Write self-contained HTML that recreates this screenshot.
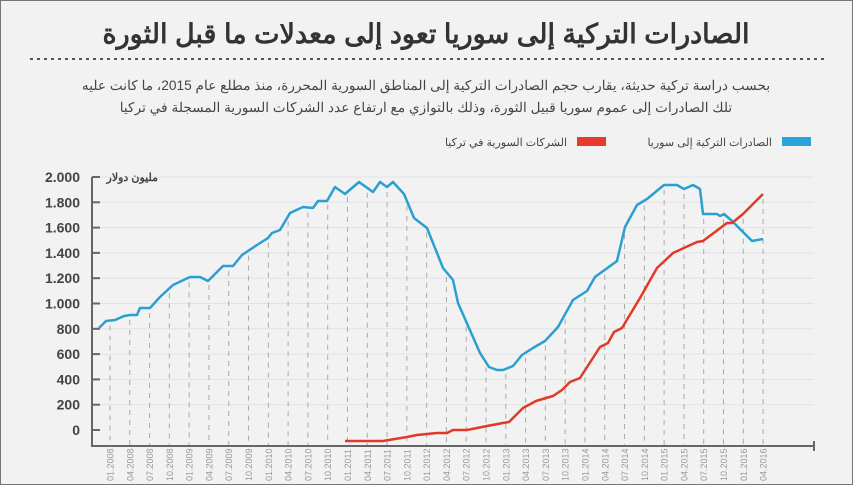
<!DOCTYPE html>
<html><head><meta charset="utf-8"><style>
html,body{margin:0;padding:0;background:#f2f2f3;}
svg{display:block;font-family:"Liberation Sans","Noto Sans CJK SC",sans-serif;}
</style></head><body>
<svg id="s" width="853" height="485" viewBox="0 0 853 485" xmlns="http://www.w3.org/2000/svg">
<rect x="0" y="0" width="853" height="485" fill="#f2f2f3"/>
<rect x="0.5" y="0.5" width="852" height="484" fill="none" stroke="#777" stroke-width="1"/>
<text x="426" y="43" text-anchor="middle" font-size="27" font-weight="bold" fill="#333" direction="rtl">الصادرات التركية إلى سوريا تعود إلى معدلات ما قبل الثورة</text>
<line x1="30" y1="59" x2="824" y2="59" stroke="#555" stroke-width="2" stroke-dasharray="3,4"/>
<text x="426" y="90" text-anchor="middle" font-size="13.7" fill="#444" direction="rtl">بحسب دراسة تركية حديثة، يقارب حجم الصادرات التركية إلى المناطق السورية المحررة، منذ مطلع عام 2015، ما كانت عليه</text>
<text x="426" y="112" text-anchor="middle" font-size="13.7" fill="#444" direction="rtl">تلك الصادرات إلى عموم سوريا قبيل الثورة، وذلك بالتوازي مع ارتفاع عدد الشركات السورية المسجلة في تركيا</text>
<rect x="782" y="137" width="29" height="9" fill="#29a3d9"/>
<text x="772" y="146" text-anchor="start" font-size="11" fill="#444" direction="rtl">الصادرات التركية إلى سوريا</text>
<rect x="577" y="137" width="29" height="9" fill="#e63a2a"/>
<text x="567" y="146" text-anchor="start" font-size="11" fill="#444" direction="rtl">الشركات السورية في تركيا</text>
<g id="grid"></g>
<g id="vlines"></g>
<line x1="92" y1="177" x2="92" y2="447" stroke="#666" stroke-width="2"/>
<line x1="92" y1="446" x2="814" y2="446" stroke="#666" stroke-width="2"/>
<line x1="814" y1="441" x2="814" y2="451" stroke="#666" stroke-width="2"/>
<g id="ylab"></g>
<g id="xlab"></g>
<text x="158" y="181" text-anchor="start" font-size="11" font-weight="bold" fill="#444" direction="rtl">مليون دولار</text>
<polyline id="blue" fill="none" stroke="#2a9fd0" stroke-width="2.5" stroke-linejoin="round"/>
<polyline id="red" fill="none" stroke="#e03a26" stroke-width="2.5" stroke-linejoin="round"/>
</svg>
<script>
(function(){
var NS="http://www.w3.org/2000/svg";
function el(p,t,a,txt){var e=document.createElementNS(NS,t);for(var k in a)e.setAttribute(k,a[k]);if(txt)e.textContent=txt;document.getElementById(p).appendChild(e);return e;}
var blue=[[99,328],[106,321],[115,320],[124,316],[130,315],[137,315],[140,308],[150,308],[160,297],[173,285],[190,277],[200,277],[208,281],[223,266],[233,266],[242,255],[257,245],[268,238],[272,233],[280,230],[290,213],[303,207],[313,208],[318,201],[327,201],[335,187],[345,194],[359,182],[373,192],[380,182],[387,187],[393,182],[404,194],[414,218],[427,228],[443,268],[453,280],[458,303],[480,353],[489,367],[497,370],[503,370],[513,366],[522,355],[533,348],[545,341],[558,327],[573,300],[587,291],[595,277],[617,261],[625,227],[637,205],[647,199],[664,185],[677,185],[684,189],[693,185],[700,189],[703,214],[717,214],[720,216],[724,214],[732,221],[752,241],[763,239]];
var red=[[345,441],[383,441],[407,437],[417,435],[437,433],[447,433],[453,430],[467,430],[487,426],[503,423],[509,422],[523,408],[536,401],[553,396],[562,390],[570,382],[580,378],[600,347],[608,343],[614,332],[622,328],[640,298],[657,268],[673,253],[697,242],[703,241],[727,223],[732,223],[743,214],[763,194]];
function pts(a){var s=[];for(var i=0;i<a.length;i++)s.push(a[i][0]+","+a[i][1]);return s.join(" ");}
document.getElementById("blue").setAttribute("points",pts(blue));
document.getElementById("red").setAttribute("points",pts(red));
function interp(arr,x){if(x<arr[0][0]||x>arr[arr.length-1][0]+1)return 9999;for(var i=1;i<arr.length;i++){if(x<=arr[i][0]){var a=arr[i-1],b=arr[i];var d=b[0]-a[0];var t=d?(x-a[0])/d:0;return a[1]+t*(b[1]-a[1]);}}return arr[arr.length-1][1];}
for(var v=0;v<=2000;v+=200){var y=430-v*253/2000;
 if(v>0)el("grid","line",{x1:92,y1:y,x2:814,y2:y,stroke:"#e2e2e4","stroke-width":1});
 el("grid","line",{x1:92,y1:y,x2:100,y2:y,stroke:"#666","stroke-width":2});
 var s=v>=1000?Math.floor(v/1000)+"."+("000"+(v%1000)).slice(-3):String(v);
 el("ylab","text",{x:80,y:y+5,"text-anchor":"end","font-size":14,"font-weight":"bold",fill:"#444"},s);}
var yrs=[2008,2009,2010,2011,2012,2013,2014,2015,2016];var mo=["01","04","07","10"];var n=0;
for(var yi=0;yi<yrs.length;yi++)for(var m=0;m<4;m++){if(yrs[yi]==2016&&m>1)break;
 var x=110+n*19.79;n++;
 var yt=Math.min(interp(blue,x),interp(red,x));if(yt>900)yt=330;yt+=5;
 el("vlines","line",{x1:x,y1:yt,x2:x,y2:445,stroke:"#aaa","stroke-width":1,"stroke-dasharray":"5,5"});
 el("xlab","text",{x:0,y:0,transform:"translate("+(x+3.5)+",481) rotate(-90)","font-size":9,fill:"#999"},mo[m]+"."+yrs[yi]);}
})();
</script>
</body></html>
